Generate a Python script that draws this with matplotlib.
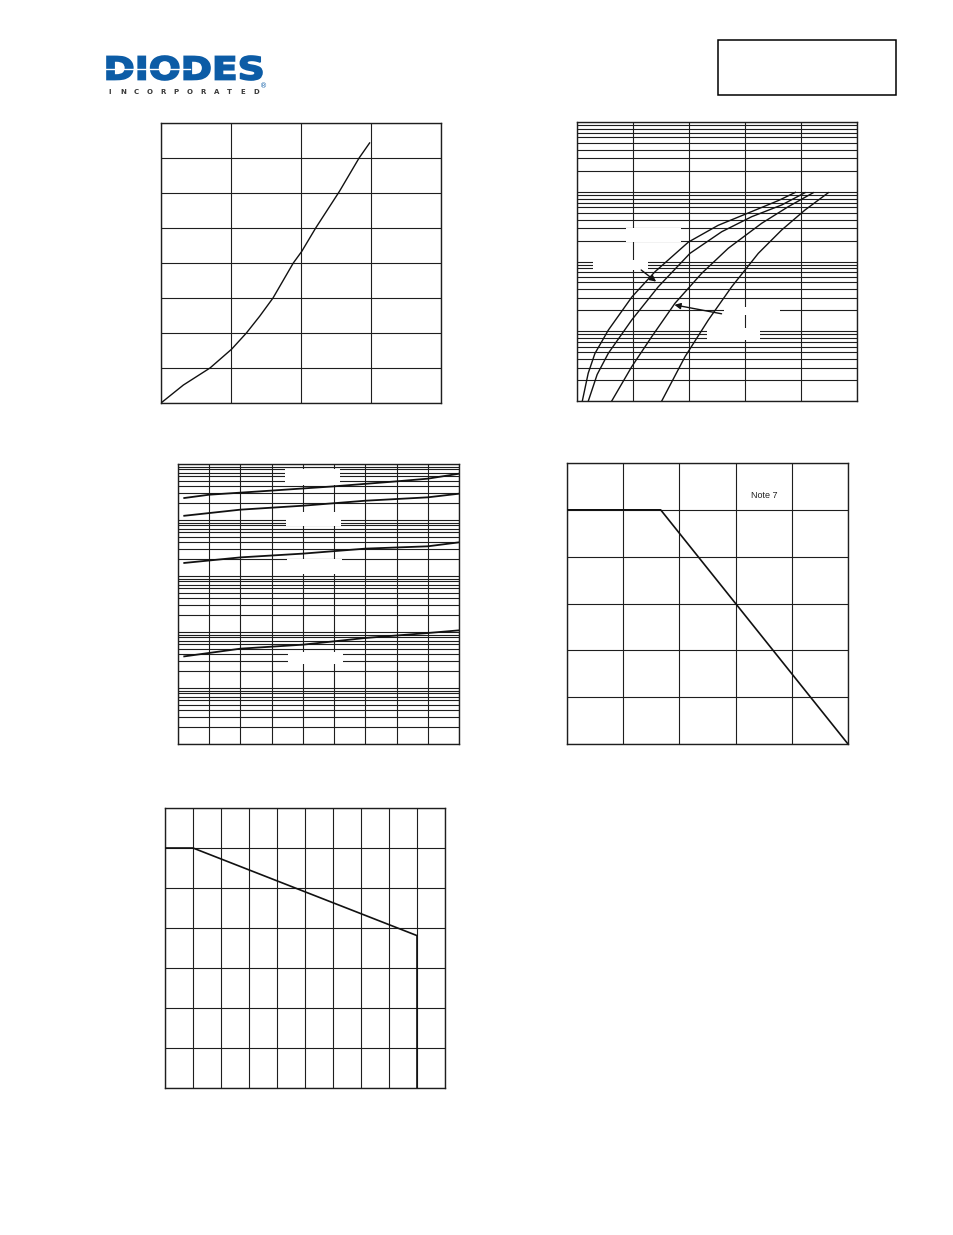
import numpy as np
import matplotlib
matplotlib.use('Agg')
import matplotlib.pyplot as plt
from matplotlib.patches import Rectangle, PathPatch
from matplotlib.textpath import TextPath
from matplotlib.font_manager import FontProperties
from matplotlib.transforms import Affine2D
from matplotlib.ticker import MultipleLocator, LogLocator, NullFormatter

# ---- data ----

# chart 1 (top left), linear grid 4 x 8
c1_x = [0, 1.6, 3.5, 5.05, 6.1, 7.05, 8.0, 9.45, 10.05, 11.05, 12.75, 14.15, 14.9]
c1_y = [0, 0.257, 0.5, 0.77, 1.0, 1.24, 1.5, 2.0, 2.165, 2.5, 3.025, 3.5, 3.715]

# chart 2 (top right), log y, four curves
c2_xa = [0.095, 0.2, 0.32, 0.56, 0.98, 1.39, 1.99, 2.52, 3.12, 3.6, 3.9]
c2_ya = [0.001, 0.0025, 0.0048, 0.0104, 0.031, 0.071, 0.19, 0.33, 0.52, 0.75, 0.98]
c2_xb = [0.202, 0.36, 0.559, 0.977, 1.452, 2.018, 2.584, 3.12, 3.655, 4.071]
c2_yb = [0.001, 0.0024, 0.00483, 0.0145, 0.0435, 0.131, 0.267, 0.439, 0.646, 0.97]
c2_xc = [0.62, 0.977, 1.334, 1.75, 2.227, 2.702, 3.298, 3.773, 4.22]
c2_yc = [0.001, 0.0031, 0.00835, 0.0252, 0.0677, 0.155, 0.353, 0.611, 0.97]
c2_xd = [1.513, 1.929, 2.345, 2.763, 3.238, 3.655, 4.071, 4.488]
c2_yd = [0.001, 0.00432, 0.0145, 0.0435, 0.131, 0.283, 0.547, 0.97]

# chart 3 (middle left), log y vs temperature
c3_x1 = [-45, -25, 24, 75, 125, 150, 175]
c3_y1 = [247, 283, 334, 399, 490, 547, 671]
c3_x = [-45, 0, 50, 100, 150, 175]
c3_y2 = [119, 153, 180, 221, 254, 295]
c3_y3 = [17.1, 21.5, 25.1, 30.8, 33.9, 39.9]
c3_y4 = [0.367, 0.504, 0.594, 0.782, 0.959, 1.07]

# chart 4 (middle right), derating
c4_x = [0, 50, 150]
c4_y = [1.0, 1.0, 0.0]

# chart 5 (bottom left)
c5_x = [0, 20, 180, 180]
c5_y = [3.0, 3.0, 1.905, 0.0]

FIG_W, FIG_H = 954, 1235
GRID = '#1e1e1e'
CURVE = '#111111'

fig = plt.figure(figsize=(FIG_W / 100, FIG_H / 100), dpi=100)
fig.patch.set_facecolor('white')


def make_axes(x0, y0, x1, y1):
    # pixel box (top-left origin) -> figure fraction
    ax = fig.add_axes([x0 / FIG_W, 1 - y1 / FIG_H, (x1 - x0) / FIG_W, (y1 - y0) / FIG_H])
    ax.set_axisbelow(True)
    for s in ax.spines.values():
        s.set_color(GRID)
        s.set_linewidth(1.0)
    ax.tick_params(which='both', length=0, labelleft=False, labelbottom=False)
    return ax


def style_grid(ax):
    ax.grid(True, which='major', color=GRID, linewidth=0.8)
    ax.grid(True, which='minor', color=GRID, linewidth=0.8)


def blank_labels(ax, boxes):
    for (bx, by, bw, bh) in boxes:
        ax.add_patch(Rectangle((bx, by), bw, bh, transform=ax.transAxes,
                               facecolor='white', edgecolor='none', zorder=1))


# ---- chart 1 ----
ax1 = make_axes(161, 123, 441, 403)
ax1.set_xlim(0, 20)
ax1.set_ylim(0, 4)
ax1.xaxis.set_major_locator(MultipleLocator(5))
ax1.yaxis.set_major_locator(MultipleLocator(0.5))
style_grid(ax1)
ax1.plot(c1_x, c1_y, color=CURVE, lw=1.0, zorder=3)

# ---- chart 2 ----
ax2 = make_axes(577, 122, 857, 401)
ax2.set_yscale('log')
ax2.set_xlim(0, 5)
ax2.set_ylim(1e-3, 10)
ax2.xaxis.set_major_locator(MultipleLocator(1))
ax2.yaxis.set_major_locator(LogLocator(base=10, numticks=10))
ax2.yaxis.set_minor_locator(LogLocator(base=10, subs=np.arange(2, 10), numticks=20))
ax2.yaxis.set_minor_formatter(NullFormatter())
style_grid(ax2)
blank_labels(ax2, [(0.175, 0.571, 0.196, 0.048), (0.057, 0.470, 0.196, 0.036),
                   (0.525, 0.308, 0.200, 0.030), (0.464, 0.219, 0.190, 0.042)])
for xs, ys in [(c2_xa, c2_ya), (c2_xb, c2_yb), (c2_xc, c2_yc), (c2_xd, c2_yd)]:
    ax2.plot(xs, ys, color=CURVE, lw=1.0, zorder=3)
ax2.annotate('', xy=(1.452, 0.0487), xytext=(1.107, 0.0799),
             arrowprops=dict(arrowstyle='-|>', color=CURVE, lw=1.0, mutation_scale=9), zorder=4)
ax2.annotate('', xy=(1.691, 0.0243), xytext=(2.630, 0.0175),
             arrowprops=dict(arrowstyle='-|>', color=CURVE, lw=1.0, mutation_scale=9), zorder=4)

# ---- chart 3 ----
ax3 = make_axes(178, 464, 459, 744)
ax3.set_yscale('log')
ax3.set_xlim(-50, 175)
ax3.set_ylim(1e-2, 1e3)
ax3.xaxis.set_major_locator(MultipleLocator(25))
ax3.yaxis.set_major_locator(LogLocator(base=10, numticks=10))
ax3.yaxis.set_minor_locator(LogLocator(base=10, subs=np.arange(2, 10), numticks=20))
ax3.yaxis.set_minor_formatter(NullFormatter())
style_grid(ax3)
blank_labels(ax3, [(0.381, 0.925, 0.196, 0.057), (0.384, 0.779, 0.196, 0.050),
                   (0.388, 0.607, 0.196, 0.054), (0.391, 0.286, 0.196, 0.043)])
ax3.plot(c3_x1, c3_y1, color=CURVE, lw=1.3, zorder=3)
for ys in [c3_y2, c3_y3, c3_y4]:
    ax3.plot(c3_x, ys, color=CURVE, lw=1.3, zorder=3)

# ---- chart 4 ----
ax4 = make_axes(567, 463, 848, 744)
ax4.set_xlim(0, 150)
ax4.set_ylim(0, 1.2)
ax4.xaxis.set_major_locator(MultipleLocator(30))
ax4.yaxis.set_major_locator(MultipleLocator(0.2))
style_grid(ax4)
ax4.plot(c4_x, c4_y, color=CURVE, lw=1.2, zorder=3)
ax4.text(0.702, 0.884, 'Note 7', transform=ax4.transAxes, ha='center', va='center',
         fontsize=6.5, family='Liberation Sans', color='#222222')

# ---- chart 5 ----
ax5 = make_axes(165, 808, 445, 1088)
ax5.set_xlim(0, 200)
ax5.set_ylim(0, 3.5)
ax5.xaxis.set_major_locator(MultipleLocator(20))
ax5.yaxis.set_major_locator(MultipleLocator(0.5))
style_grid(ax5)
ax5.plot(c5_x, c5_y, color=CURVE, lw=1.2, zorder=3)

# ---- header: logo and part number box ----
logo_blue = '#0c5ca6'
tp = TextPath((0, 0), 'DIODES', size=10,
              prop=FontProperties(family='DejaVu Sans', weight='bold'))
bb = tp.get_extents()
lx0, lx1, ltop, lbot = 107, 262, 56, 80
tr = (Affine2D().translate(-bb.x0, -bb.y0)
      .scale((lx1 - lx0) / bb.width / FIG_W, (lbot - ltop) / bb.height / FIG_H)
      .translate(lx0 / FIG_W, 1 - lbot / FIG_H))
fig.patches.append(PathPatch(tr.transform_path(tp), facecolor=logo_blue, edgecolor=logo_blue,
                             lw=1.2, transform=fig.transFigure, figure=fig))
# white stripe through the letters
fig.add_artist(plt.Line2D([106 / FIG_W, 190 / FIG_W], [1 - 68.5 / FIG_H, 1 - 68.5 / FIG_H],
                          transform=fig.transFigure, color='white', lw=1.0))
for i, ch in enumerate('INCORPORATED'):
    fx = (110 + i * (256 - 110) / 11) / FIG_W
    fig.text(fx, 1 - 91.5 / FIG_H, ch, ha='center', va='center', fontsize=5,
             fontweight='bold', family='DejaVu Sans', color='#3a3a3a')
fig.text(264 / FIG_W, 1 - 86 / FIG_H, '\u00ae', ha='center', va='center', fontsize=5,
         color=logo_blue, family='DejaVu Sans')

fig.add_artist(Rectangle((718 / FIG_W, 1 - 94.5 / FIG_H), (896 - 718) / FIG_W, (94.5 - 39.5) / FIG_H,
                         transform=fig.transFigure, facecolor='none', edgecolor='black', lw=1.1))

fig.savefig('out.png', dpi=100)
